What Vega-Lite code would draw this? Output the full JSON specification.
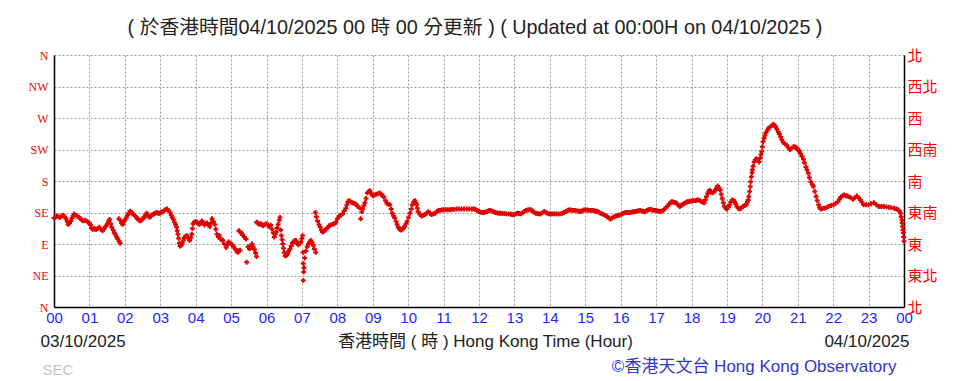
{
"$schema": "https://vega.github.io/schema/vega-lite/v6.json",
"width": 850, "height": 252,
"autosize": "none",
"padding": {"left": 54, "top": 55, "right": 60, "bottom": 74},
"background": "white",
"config": {"view": {"stroke": null}},
"title": {"text": "( 於香港時間04/10/2025 00 時 00 分更新 ) ( Updated at 00:00H on 04/10/2025 )", "font": "Liberation Sans, Noto Sans CJK TC, sans-serif", "fontSize": 19.8, "fontWeight": "normal", "color": "#222222", "anchor": "middle", "frame": "group", "offset": 10, "dx": -4},
"datasets": {"wind": [
{"hour":0.00,"dir":127},{"hour":0.04,"dir":128},{"hour":0.08,"dir":130},{"hour":0.12,"dir":129},{"hour":0.17,"dir":128},{"hour":0.21,"dir":130},{"hour":0.26,"dir":131},{"hour":0.30,"dir":129},{"hour":0.34,"dir":126},{"hour":0.37,"dir":122},{"hour":0.40,"dir":118},{"hour":0.44,"dir":120},{"hour":0.47,"dir":123},{"hour":0.51,"dir":127},{"hour":0.54,"dir":130},{"hour":0.57,"dir":133},{"hour":0.61,"dir":131},{"hour":0.66,"dir":130},{"hour":0.70,"dir":128},{"hour":0.75,"dir":126},{"hour":0.79,"dir":124},{"hour":0.83,"dir":123},{"hour":0.87,"dir":124},{"hour":0.92,"dir":123},{"hour":0.96,"dir":121},{"hour":1.00,"dir":120},{"hour":1.03,"dir":117},{"hour":1.06,"dir":113},{"hour":1.09,"dir":111},{"hour":1.13,"dir":112},{"hour":1.16,"dir":111},{"hour":1.19,"dir":111},{"hour":1.23,"dir":112},{"hour":1.28,"dir":114},{"hour":1.32,"dir":111},{"hour":1.37,"dir":109},{"hour":1.41,"dir":111},{"hour":1.44,"dir":114},{"hour":1.47,"dir":116},{"hour":1.51,"dir":119},{"hour":1.54,"dir":122},{"hour":1.57,"dir":125},{"hour":1.60,"dir":119},{"hour":1.63,"dir":114},{"hour":1.67,"dir":110},{"hour":1.70,"dir":106},{"hour":1.73,"dir":104},{"hour":1.77,"dir":100},{"hour":1.80,"dir":97},{"hour":1.84,"dir":94},{"hour":1.87,"dir":91},
{"hour":1.83,"dir":126},{"hour":1.87,"dir":124},{"hour":1.91,"dir":120},{"hour":1.94,"dir":118},{"hour":1.98,"dir":122},{"hour":2.01,"dir":125},{"hour":2.04,"dir":128},{"hour":2.08,"dir":131},{"hour":2.11,"dir":134},{"hour":2.15,"dir":137},{"hour":2.19,"dir":135},{"hour":2.22,"dir":133},{"hour":2.25,"dir":132},{"hour":2.29,"dir":130},{"hour":2.33,"dir":128},{"hour":2.36,"dir":126},{"hour":2.40,"dir":124},{"hour":2.45,"dir":123},{"hour":2.50,"dir":126},{"hour":2.55,"dir":128},{"hour":2.58,"dir":131},{"hour":2.62,"dir":134},{"hour":2.66,"dir":131},{"hour":2.70,"dir":128},{"hour":2.74,"dir":130},{"hour":2.78,"dir":132},{"hour":2.82,"dir":133},{"hour":2.86,"dir":134},{"hour":2.90,"dir":135},{"hour":2.94,"dir":134},{"hour":2.98,"dir":134},{"hour":3.02,"dir":135},{"hour":3.06,"dir":136},{"hour":3.10,"dir":137},{"hour":3.14,"dir":139},{"hour":3.19,"dir":140},{"hour":3.23,"dir":138},{"hour":3.28,"dir":135},{"hour":3.31,"dir":131},{"hour":3.34,"dir":128},{"hour":3.37,"dir":125},{"hour":3.40,"dir":121},{"hour":3.43,"dir":118},{"hour":3.46,"dir":114},{"hour":3.48,"dir":109},{"hour":3.50,"dir":104},{"hour":3.52,"dir":98},{"hour":3.54,"dir":91},{"hour":3.56,"dir":87},{"hour":3.59,"dir":88},{"hour":3.62,"dir":91},{"hour":3.65,"dir":95},{"hour":3.68,"dir":99},{"hour":3.72,"dir":101},{"hour":3.75,"dir":102},{"hour":3.79,"dir":98},{"hour":3.83,"dir":95},{"hour":3.86,"dir":99},{"hour":3.89,"dir":104},{"hour":3.91,"dir":112},{"hour":3.93,"dir":119},{"hour":3.96,"dir":121},{"hour":4.00,"dir":122},{"hour":4.04,"dir":121},{"hour":4.08,"dir":119},{"hour":4.11,"dir":118},{"hour":4.15,"dir":121},{"hour":4.18,"dir":123},{"hour":4.22,"dir":120},{"hour":4.25,"dir":117},{"hour":4.29,"dir":119},{"hour":4.32,"dir":120},{"hour":4.36,"dir":117},{"hour":4.40,"dir":115},{"hour":4.43,"dir":120},{"hour":4.46,"dir":126},{"hour":4.50,"dir":122},{"hour":4.54,"dir":118},{"hour":4.57,"dir":111},{"hour":4.60,"dir":104},{"hour":4.64,"dir":100},{"hour":4.67,"dir":102},{"hour":4.70,"dir":97},{"hour":4.74,"dir":96},{"hour":4.77,"dir":95},{"hour":4.81,"dir":90},{"hour":4.86,"dir":85},{"hour":4.90,"dir":89},{"hour":4.93,"dir":93},{"hour":4.98,"dir":91},{"hour":5.03,"dir":89},{"hour":5.07,"dir":86},{"hour":5.12,"dir":83},{"hour":5.16,"dir":80},{"hour":5.19,"dir":78},{"hour":5.22,"dir":80},{"hour":5.25,"dir":81},
{"hour":5.22,"dir":109},{"hour":5.26,"dir":107},{"hour":5.30,"dir":105},{"hour":5.33,"dir":103},{"hour":5.37,"dir":100},{"hour":5.42,"dir":97},{"hour":5.44,"dir":64},{"hour":5.48,"dir":86},{"hour":5.52,"dir":83},{"hour":5.55,"dir":87},{"hour":5.59,"dir":90},{"hour":5.62,"dir":86},{"hour":5.66,"dir":82},{"hour":5.69,"dir":77},{"hour":5.72,"dir":72},
{"hour":5.72,"dir":121},{"hour":5.76,"dir":120},{"hour":5.80,"dir":118},{"hour":5.84,"dir":119},{"hour":5.88,"dir":117},{"hour":5.91,"dir":116},{"hour":5.95,"dir":118},{"hour":6.00,"dir":119},{"hour":6.04,"dir":117},{"hour":6.08,"dir":115},{"hour":6.12,"dir":117},{"hour":6.16,"dir":111},{"hour":6.19,"dir":106},{"hour":6.22,"dir":100},{"hour":6.25,"dir":104},{"hour":6.27,"dir":107},{"hour":6.30,"dir":113},{"hour":6.33,"dir":118},{"hour":6.36,"dir":124},{"hour":6.38,"dir":128},{"hour":6.40,"dir":110},{"hour":6.42,"dir":102},{"hour":6.44,"dir":96},{"hour":6.46,"dir":90},{"hour":6.48,"dir":84},{"hour":6.50,"dir":78},{"hour":6.53,"dir":73},{"hour":6.57,"dir":74},{"hour":6.60,"dir":76},{"hour":6.63,"dir":80},{"hour":6.66,"dir":83},{"hour":6.70,"dir":87},{"hour":6.73,"dir":91},{"hour":6.76,"dir":93},{"hour":6.80,"dir":95},{"hour":6.83,"dir":95},{"hour":6.87,"dir":91},{"hour":6.90,"dir":89},{"hour":6.94,"dir":91},{"hour":6.97,"dir":93},{"hour":7.00,"dir":98},{"hour":7.02,"dir":102},{"hour":7.03,"dir":78},{"hour":7.04,"dir":62},{"hour":7.05,"dir":50},{"hour":7.04,"dir":38},{"hour":7.06,"dir":56},{"hour":7.08,"dir":70},{"hour":7.11,"dir":80},{"hour":7.15,"dir":86},{"hour":7.19,"dir":90},{"hour":7.22,"dir":93},{"hour":7.25,"dir":95},{"hour":7.29,"dir":92},{"hour":7.32,"dir":88},{"hour":7.35,"dir":83},{"hour":7.39,"dir":78},
{"hour":7.38,"dir":135},{"hour":7.41,"dir":129},{"hour":7.44,"dir":123},{"hour":7.48,"dir":118},{"hour":7.52,"dir":114},{"hour":7.55,"dir":110},{"hour":7.58,"dir":107},{"hour":7.62,"dir":108},{"hour":7.65,"dir":110},{"hour":7.68,"dir":111},{"hour":7.72,"dir":113},{"hour":7.77,"dir":116},{"hour":7.81,"dir":117},{"hour":7.86,"dir":118},{"hour":7.91,"dir":119},{"hour":7.96,"dir":121},{"hour":8.00,"dir":126},{"hour":8.05,"dir":130},{"hour":8.10,"dir":131},{"hour":8.15,"dir":133},{"hour":8.19,"dir":137},{"hour":8.24,"dir":141},{"hour":8.27,"dir":146},{"hour":8.30,"dir":150},{"hour":8.33,"dir":152},{"hour":8.38,"dir":150},{"hour":8.43,"dir":149},{"hour":8.48,"dir":148},{"hour":8.52,"dir":147},{"hour":8.57,"dir":144},{"hour":8.62,"dir":142},{"hour":8.66,"dir":126},{"hour":8.69,"dir":136},{"hour":8.71,"dir":140},{"hour":8.75,"dir":145},{"hour":8.78,"dir":149},{"hour":8.81,"dir":155},{"hour":8.85,"dir":163},{"hour":8.89,"dir":165},{"hour":8.92,"dir":166},{"hour":8.96,"dir":162},{"hour":9.00,"dir":159},{"hour":9.05,"dir":160},{"hour":9.10,"dir":161},{"hour":9.15,"dir":162},{"hour":9.20,"dir":163},{"hour":9.24,"dir":161},{"hour":9.28,"dir":159},{"hour":9.31,"dir":157},{"hour":9.36,"dir":152},{"hour":9.40,"dir":148},{"hour":9.44,"dir":147},{"hour":9.48,"dir":146},{"hour":9.52,"dir":140},{"hour":9.55,"dir":134},{"hour":9.59,"dir":130},{"hour":9.62,"dir":127},{"hour":9.66,"dir":122},{"hour":9.69,"dir":118},{"hour":9.72,"dir":114},{"hour":9.76,"dir":111},{"hour":9.80,"dir":110},{"hour":9.84,"dir":111},{"hour":9.87,"dir":113},{"hour":9.90,"dir":115},{"hour":9.94,"dir":119},{"hour":9.97,"dir":122},{"hour":10.01,"dir":128},{"hour":10.05,"dir":134},{"hour":10.09,"dir":140},{"hour":10.12,"dir":146},{"hour":10.16,"dir":150},{"hour":10.19,"dir":152},{"hour":10.22,"dir":149},{"hour":10.24,"dir":146},{"hour":10.26,"dir":141},{"hour":10.28,"dir":136},{"hour":10.33,"dir":132},{"hour":10.38,"dir":130},{"hour":10.43,"dir":131},{"hour":10.47,"dir":132},{"hour":10.52,"dir":134},{"hour":10.57,"dir":136},{"hour":10.62,"dir":134},{"hour":10.66,"dir":132},{"hour":10.71,"dir":133},{"hour":10.76,"dir":134},{"hour":10.81,"dir":136},{"hour":10.85,"dir":138},{"hour":10.90,"dir":138},{"hour":10.95,"dir":138.5},{"hour":11.00,"dir":139},{"hour":11.06,"dir":139},{"hour":11.12,"dir":139},{"hour":11.18,"dir":139},{"hour":11.24,"dir":139.5},{"hour":11.30,"dir":139.5},{"hour":11.37,"dir":140},{"hour":11.44,"dir":140},{"hour":11.51,"dir":140},{"hour":11.58,"dir":140},{"hour":11.66,"dir":140},{"hour":11.73,"dir":140},{"hour":11.80,"dir":140},{"hour":11.86,"dir":140},{"hour":11.90,"dir":139.5},{"hour":11.95,"dir":138},{"hour":11.99,"dir":136.5},{"hour":12.04,"dir":135.5},{"hour":12.09,"dir":135},{"hour":12.13,"dir":135},{"hour":12.18,"dir":135.5},{"hour":12.23,"dir":136.5},{"hour":12.28,"dir":137.5},{"hour":12.32,"dir":138},{"hour":12.37,"dir":137},{"hour":12.41,"dir":136},{"hour":12.46,"dir":135},{"hour":12.51,"dir":134.5},{"hour":12.56,"dir":134},{"hour":12.60,"dir":134},{"hour":12.66,"dir":133.5},{"hour":12.72,"dir":133.5},{"hour":12.78,"dir":133},{"hour":12.84,"dir":133},{"hour":12.90,"dir":132.5},{"hour":12.95,"dir":132},{"hour":12.99,"dir":132},{"hour":13.04,"dir":133},{"hour":13.08,"dir":134},{"hour":13.13,"dir":133.5},{"hour":13.18,"dir":133},{"hour":13.23,"dir":134.5},{"hour":13.28,"dir":136.5},{"hour":13.32,"dir":138},{"hour":13.37,"dir":138.5},{"hour":13.42,"dir":139},{"hour":13.46,"dir":139},{"hour":13.51,"dir":137.5},{"hour":13.55,"dir":135.5},{"hour":13.60,"dir":134},{"hour":13.65,"dir":133.5},{"hour":13.70,"dir":133},{"hour":13.74,"dir":133},{"hour":13.79,"dir":134.5},{"hour":13.84,"dir":136.5},{"hour":13.88,"dir":135.5},{"hour":13.93,"dir":134},{"hour":13.98,"dir":133},{"hour":14.03,"dir":133},{"hour":14.08,"dir":133},{"hour":14.13,"dir":133},{"hour":14.18,"dir":133},{"hour":14.24,"dir":133},{"hour":14.30,"dir":133},{"hour":14.35,"dir":134},{"hour":14.40,"dir":135},{"hour":14.45,"dir":136.5},{"hour":14.50,"dir":138},{"hour":14.54,"dir":138.5},{"hour":14.59,"dir":138.5},{"hour":14.64,"dir":138},{"hour":14.68,"dir":138},{"hour":14.73,"dir":138},{"hour":14.78,"dir":137},{"hour":14.82,"dir":137},{"hour":14.87,"dir":136.5},{"hour":14.92,"dir":137.5},{"hour":14.96,"dir":138.5},{"hour":15.01,"dir":138.5},{"hour":15.06,"dir":138.5},{"hour":15.11,"dir":138},{"hour":15.16,"dir":138},{"hour":15.20,"dir":138},{"hour":15.25,"dir":137.5},{"hour":15.30,"dir":137},{"hour":15.34,"dir":136.5},{"hour":15.39,"dir":135.5},{"hour":15.43,"dir":134},{"hour":15.48,"dir":133},{"hour":15.52,"dir":132},{"hour":15.57,"dir":130.5},{"hour":15.62,"dir":129},{"hour":15.66,"dir":127.5},{"hour":15.71,"dir":125.5},{"hour":15.76,"dir":127},{"hour":15.80,"dir":128.5},{"hour":15.85,"dir":129.5},{"hour":15.90,"dir":130.5},{"hour":15.94,"dir":131},{"hour":15.99,"dir":131.5},{"hour":16.04,"dir":133},{"hour":16.08,"dir":134},{"hour":16.13,"dir":135},{"hour":16.18,"dir":135},{"hour":16.22,"dir":135},{"hour":16.27,"dir":135},{"hour":16.32,"dir":135.5},{"hour":16.36,"dir":136},{"hour":16.41,"dir":136.5},{"hour":16.46,"dir":137},{"hour":16.50,"dir":137.5},{"hour":16.55,"dir":138},{"hour":16.60,"dir":137},{"hour":16.64,"dir":136.5},{"hour":16.69,"dir":136.5},{"hour":16.74,"dir":138},{"hour":16.78,"dir":139},{"hour":16.83,"dir":139.5},{"hour":16.88,"dir":139},{"hour":16.92,"dir":138},{"hour":16.97,"dir":138},{"hour":17.02,"dir":137.5},{"hour":17.06,"dir":137},{"hour":17.11,"dir":136.5},{"hour":17.16,"dir":137},{"hour":17.20,"dir":138},{"hour":17.24,"dir":140},{"hour":17.28,"dir":142},{"hour":17.33,"dir":144.5},{"hour":17.37,"dir":147},{"hour":17.41,"dir":149},{"hour":17.44,"dir":150.5},{"hour":17.48,"dir":150},{"hour":17.52,"dir":149.5},{"hour":17.55,"dir":149},{"hour":17.59,"dir":147.5},{"hour":17.63,"dir":145.5},{"hour":17.67,"dir":143.5},{"hour":17.71,"dir":145},{"hour":17.75,"dir":146.5},{"hour":17.79,"dir":148},{"hour":17.83,"dir":149},{"hour":17.87,"dir":150},{"hour":17.90,"dir":150.5},{"hour":17.95,"dir":151},{"hour":18.00,"dir":151.5},{"hour":18.05,"dir":152},{"hour":18.10,"dir":152},{"hour":18.15,"dir":152.5},{"hour":18.19,"dir":153},{"hour":18.24,"dir":152},{"hour":18.28,"dir":150.5},{"hour":18.32,"dir":149.5},{"hour":18.36,"dir":149},{"hour":18.39,"dir":153},{"hour":18.42,"dir":157.5},{"hour":18.46,"dir":162},{"hour":18.49,"dir":165},{"hour":18.51,"dir":167},{"hour":18.55,"dir":164},{"hour":18.60,"dir":163},{"hour":18.64,"dir":165},{"hour":18.68,"dir":167},{"hour":18.71,"dir":170},{"hour":18.74,"dir":173},{"hour":18.78,"dir":170},{"hour":18.81,"dir":167},{"hour":18.84,"dir":161},{"hour":18.87,"dir":155},{"hour":18.90,"dir":149},{"hour":18.93,"dir":144},{"hour":18.97,"dir":141},{"hour":19.00,"dir":140},{"hour":19.04,"dir":143},{"hour":19.08,"dir":146},{"hour":19.11,"dir":150},{"hour":19.15,"dir":153},{"hour":19.19,"dir":152},{"hour":19.22,"dir":150.5},{"hour":19.25,"dir":147},{"hour":19.28,"dir":143.5},{"hour":19.32,"dir":141},{"hour":19.36,"dir":140},{"hour":19.40,"dir":141},{"hour":19.45,"dir":143.5},{"hour":19.50,"dir":145},{"hour":19.55,"dir":146},{"hour":19.58,"dir":150},{"hour":19.60,"dir":153},{"hour":19.62,"dir":158},{"hour":19.64,"dir":165},{"hour":19.66,"dir":172},{"hour":19.67,"dir":179},{"hour":19.69,"dir":186},{"hour":19.71,"dir":192},{"hour":19.72,"dir":196},{"hour":19.74,"dir":201},{"hour":19.77,"dir":207},{"hour":19.80,"dir":210},{"hour":19.83,"dir":212},{"hour":19.87,"dir":210},{"hour":19.91,"dir":207},{"hour":19.94,"dir":213},{"hour":19.96,"dir":218},{"hour":19.98,"dir":222},{"hour":20.00,"dir":229},{"hour":20.02,"dir":236},{"hour":20.05,"dir":241},{"hour":20.07,"dir":245},{"hour":20.10,"dir":249},{"hour":20.14,"dir":252},{"hour":20.17,"dir":255},{"hour":20.21,"dir":257},{"hour":20.26,"dir":259},{"hour":20.31,"dir":261},{"hour":20.35,"dir":259},{"hour":20.38,"dir":257},{"hour":20.41,"dir":254},{"hour":20.45,"dir":250},{"hour":20.48,"dir":247},{"hour":20.52,"dir":243},{"hour":20.55,"dir":239},{"hour":20.59,"dir":235},{"hour":20.64,"dir":233},{"hour":20.69,"dir":231},{"hour":20.73,"dir":228},{"hour":20.78,"dir":225},{"hour":20.83,"dir":227},{"hour":20.88,"dir":229},{"hour":20.92,"dir":228.5},{"hour":20.95,"dir":228},{"hour":20.99,"dir":226},{"hour":21.02,"dir":224},{"hour":21.05,"dir":222},{"hour":21.08,"dir":219},{"hour":21.12,"dir":215},{"hour":21.16,"dir":211},{"hour":21.19,"dir":206},{"hour":21.23,"dir":200},{"hour":21.26,"dir":196},{"hour":21.30,"dir":191},{"hour":21.33,"dir":185},{"hour":21.37,"dir":179},{"hour":21.41,"dir":175},{"hour":21.44,"dir":172},{"hour":21.48,"dir":165},{"hour":21.52,"dir":158},{"hour":21.55,"dir":152},{"hour":21.59,"dir":146},{"hour":21.62,"dir":142},{"hour":21.65,"dir":140},{"hour":21.70,"dir":140.5},{"hour":21.75,"dir":141},{"hour":21.81,"dir":142},{"hour":21.87,"dir":143.5},{"hour":21.94,"dir":145},{"hour":22.01,"dir":146},{"hour":22.07,"dir":148},{"hour":22.13,"dir":150.5},{"hour":22.18,"dir":154},{"hour":22.22,"dir":157},{"hour":22.27,"dir":159},{"hour":22.31,"dir":160},{"hour":22.36,"dir":159},{"hour":22.40,"dir":158.5},{"hour":22.44,"dir":157.5},{"hour":22.50,"dir":156},{"hour":22.56,"dir":154},{"hour":22.61,"dir":156},{"hour":22.67,"dir":158.5},{"hour":22.72,"dir":156},{"hour":22.77,"dir":153},{"hour":22.81,"dir":149.5},{"hour":22.86,"dir":146},{"hour":22.93,"dir":146},{"hour":23.00,"dir":146},{"hour":23.07,"dir":147.5},{"hour":23.15,"dir":149},{"hour":23.22,"dir":146},{"hour":23.29,"dir":143.5},{"hour":23.36,"dir":143.5},{"hour":23.43,"dir":143.5},{"hour":23.50,"dir":143},{"hour":23.57,"dir":142.5},{"hour":23.64,"dir":142},{"hour":23.72,"dir":141},{"hour":23.78,"dir":140},{"hour":23.83,"dir":139},{"hour":23.87,"dir":137},{"hour":23.90,"dir":134},{"hour":23.92,"dir":129},{"hour":23.94,"dir":124},{"hour":23.95,"dir":120},{"hour":23.96,"dir":115},{"hour":23.97,"dir":110},{"hour":23.98,"dir":106},{"hour":23.99,"dir":100},{"hour":24.00,"dir":94}
]},
"data": {"name": "wind"},
"resolve": {"axis": {"x": "independent", "y": "independent"}},
"layer": [
{
"mark": {"type": "point", "shape": "cross", "filled": true, "color": "#e00000", "size": 24, "opacity": 1, "strokeWidth": 0},
"encoding": {
"x": {"field": "hour", "type": "quantitative", "scale": {"domain": [0, 24], "nice": false, "zero": false},
"axis": {"orient": "bottom", "values": [0,1,2,3,4,5,6,7,8,9,10,11,12,13,14,15,16,17,18,19,20,21,22,23,24], "labelExpr": "datum.value == 24 ? '00' : format(datum.value, '02d')", "labelColor": "#1f1fff", "labelFont": "Liberation Sans, sans-serif", "labelFontSize": 15, "labelFlush": false, "labelOverlap": false, "labelPadding": 3, "ticks": false, "domain": true, "domainColor": "#000000", "domainWidth": 1.5, "grid": true, "gridColor": "#999999", "gridDash": [2, 2], "gridWidth": 1, "title": "香港時間 ( 時 ) Hong Kong Time (Hour)", "titleFont": "Liberation Sans, Noto Sans CJK TC, sans-serif", "titleFontSize": 17, "titleFontWeight": "normal", "titleColor": "#222222", "titlePadding": 8, "titleX": 431}},
"y": {"field": "dir", "type": "quantitative", "scale": {"domain": [0, 360], "nice": false, "zero": false},
"axis": {"orient": "left", "values": [0,45,90,135,180,225,270,315,360], "labelExpr": "['N','NE','E','SE','S','SW','W','NW','N'][round(datum.value/45)]", "labelColor": "#ff0000", "labelFont": "Liberation Serif, serif", "labelFontSize": 12, "labelPadding": 6, "labelFlush": false, "labelOverlap": false, "ticks": false, "domain": true, "domainColor": "#000000", "domainWidth": 1.5, "grid": true, "gridColor": "#999999", "gridDash": [2, 2], "gridWidth": 1, "title": null}}
}
},
{
"mark": {"type": "point", "opacity": 0},
"encoding": {
"x": {"field": "hour", "type": "quantitative", "scale": {"domain": [0, 24], "nice": false, "zero": false},
"axis": {"orient": "bottom", "values": [0, 24], "labelExpr": "datum.value == 0 ? '03/10/2025' : '04/10/2025'", "labelAlign": {"condition": {"test": "datum.value == 0", "value": "left"}, "value": "right"}, "labelOffset": {"condition": {"test": "datum.value == 0", "value": -14}, "value": 5}, "labelPadding": 26, "labelBaseline": "top", "labelFont": "Liberation Sans, sans-serif", "labelFontSize": 17, "labelColor": "#222222", "domain": false, "ticks": false, "grid": false, "title": null, "labelFlush": false, "labelOverlap": false, "labelLimit": 0}},
"y": {"field": "dir", "type": "quantitative", "scale": {"domain": [0, 360], "nice": false, "zero": false},
"axis": {"orient": "right", "values": [0,45,90,135,180,225,270,315,360], "labelExpr": "['北','東北','東','東南','南','西南','西','西北','北'][round(datum.value/45)]", "labelColor": "#ff0000", "labelFont": "Noto Sans CJK TC", "labelFontSize": 15, "labelPadding": 3, "labelFlush": false, "labelOverlap": false, "ticks": false, "domain": true, "domainColor": "#000000", "domainWidth": 1.5, "grid": false, "title": null}}
}
},
{
"mark": {"type": "point", "opacity": 0},
"encoding": {
"x": {"field": "hour", "type": "quantitative", "scale": {"domain": [0, 24], "nice": false, "zero": false},
"axis": {"orient": "bottom", "values": [0, 24], "labelExpr": "datum.value == 0 ? 'SEC' : '©香港天文台 Hong Kong Observatory'", "labelAlign": {"condition": {"test": "datum.value == 0", "value": "left"}, "value": "right"}, "labelOffset": {"condition": {"test": "datum.value == 0", "value": -12}, "value": -8}, "labelPadding": {"condition": {"test": "datum.value == 0", "value": 55}, "value": 51}, "labelColor": {"condition": {"test": "datum.value == 0", "value": "#c4c4c4"}, "value": "#3535d0"}, "labelFontSize": {"condition": {"test": "datum.value == 0", "value": 15}, "value": 17}, "labelBaseline": "top", "labelFont": "Liberation Sans, Noto Sans CJK TC, sans-serif", "labelLimit": 0, "domain": false, "ticks": false, "grid": false, "title": null, "labelFlush": false, "labelOverlap": false}},
"y": {"field": "dir", "type": "quantitative", "scale": {"domain": [0, 360], "nice": false, "zero": false}, "axis": null}
}
}
]
}
